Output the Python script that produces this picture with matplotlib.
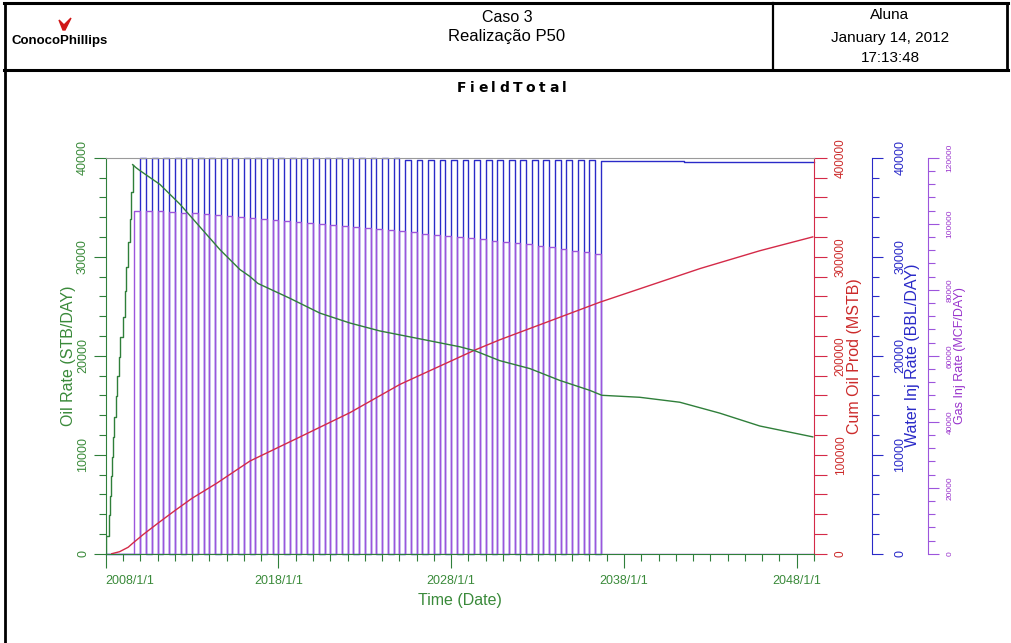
import matplotlib
matplotlib.use("Agg")
import matplotlib.pyplot as plt
from matplotlib.ticker import MultipleLocator
from matplotlib.lines import Line2D
from matplotlib.patches import Polygon

plt.rcParams['font.family'] = ['Liberation Sans', 'DejaVu Sans']

# ---- data ----
# oil rate (STB/DAY): stepped build-up, then decline
ramp_years = [2008.00, 2008.00, 2008.21, 2008.25, 2008.31, 2008.38, 2008.44, 2008.50, 2008.58,
              2008.67, 2008.75, 2008.83, 2008.98, 2009.10, 2009.20, 2009.30, 2009.41, 2009.48, 2009.56]
ramp_rate = [0, 1800, 3900, 5800, 7800, 9800, 11800, 13800, 15900,
             17900, 19900, 21900, 23900, 26500, 29000, 31500, 33800, 36500, 39300]
decl_years = [2009.56, 2009.75, 2009.98, 2011.14, 2012.30, 2013.46, 2014.62, 2015.77, 2016.35, 2016.81,
              2018.66, 2020.40, 2022.14, 2023.87, 2025.03, 2026.77, 2028.50, 2029.37, 2030.81, 2032.55,
              2034.29, 2036.02, 2036.72, 2038.91, 2041.23, 2043.54, 2045.86, 2048.93]
decl_rate = [39300, 39000, 38700, 37300, 35300, 33000, 30700, 28700, 28000, 27300,
             25800, 24300, 23300, 22500, 22100, 21500, 20900, 20500, 19500, 18700,
             17500, 16500, 16000, 15800, 15300, 14200, 12900, 11800]

# cumulative oil (MSTB)
cum_years = [2008.35, 2008.80, 2009.30, 2009.58, 2010.18, 2011.00, 2012.00, 2013.00, 2014.42, 2016.35,
             2019.24, 2022.14, 2025.03, 2029.37, 2030.80, 2033.70, 2036.60, 2039.50, 2042.40, 2045.86, 2048.93]
cum_oil = [0, 2000, 6500, 10800, 19500, 30500, 43500, 56000, 71100, 93600,
           117900, 142500, 171000, 205700, 216000, 235000, 254000, 271000, 288000, 306000, 320000]

# water injection periods (BBL/DAY), start of each period
water_start = ["2010-01", "2010-09", "2011-05", "2012-01", "2012-09", "2013-05", "2014-01", "2014-09",
               "2015-05", "2016-01", "2016-09", "2017-05", "2018-01", "2018-09", "2019-05", "2020-01",
               "2020-09", "2021-05", "2022-01", "2022-09", "2023-05", "2024-01", "2024-09", "2025-05",
               "2026-01", "2026-09", "2027-05", "2028-01", "2028-09", "2029-05", "2030-01", "2030-09",
               "2031-05", "2032-01", "2032-09", "2033-05", "2034-01", "2034-09", "2035-05", "2036-01",
               "2036-09", "2041-07"]
water_rate = [40000, 40000, 40000, 40000, 40000, 40000, 40000, 40000,
              40000, 40000, 40000, 40000, 40000, 40000, 40000, 40000,
              40000, 40000, 39950, 39950, 39950, 39950, 39950, 39750,
              39750, 39750, 39750, 39750, 39750, 39750, 39750, 39750,
              39750, 39750, 39750, 39750, 39750, 39750, 39750, 39750,
              39700, 39550]

# gas injection periods (MCF/DAY), start of each period
gas_start = ["2009-09", "2010-05", "2011-01", "2011-09", "2012-05", "2013-01", "2013-09", "2014-05",
             "2015-01", "2015-09", "2016-05", "2017-01", "2017-09", "2018-05", "2019-01", "2019-09",
             "2020-05", "2021-01", "2021-09", "2022-05", "2023-01", "2023-09", "2024-05", "2025-01",
             "2025-09", "2026-05", "2027-01", "2027-09", "2028-05", "2029-01", "2029-09", "2030-05",
             "2031-01", "2031-09", "2032-05", "2033-01", "2033-09", "2034-05", "2035-01", "2035-09",
             "2036-05"]
gas_rate = [103800, 103900, 103700, 103500, 103300, 103100, 102800, 102600,
            102300, 102000, 101700, 101400, 101100, 100800, 100500, 100100,
            99800, 99500, 99200, 98900, 98600, 98300, 98000, 97700,
            97400, 97000, 96700, 96300, 96000, 95700, 95300, 94900,
            94500, 94100, 93700, 93300, 92800, 92300, 91800, 91300,
            90700]

major_years = [2008, 2018, 2028, 2038, 2048]
major_labels = ["2008/1/1", "2018/1/1", "2028/1/1", "2038/1/1", "2048/1/1"]

GREEN = '#2f7f3a'
GREEN_T = '#3a8a3a'
RED = '#d42a48'
RED_T = '#cc2a2a'
BLUE = '#2a2ac8'
PURPLE = '#9d55dc'
PURPLE_T = '#9933cc'

W, H = 1011, 643


def fx(x):
    return x / W


def fy(y):
    return 1 - y / H


def yr(s):
    y, m = s.split('-')
    return int(y) + (int(m) - 1) / 12


# build the injection step series
events = [(2008.0, 0, 0)]
for d, w in zip(water_start, water_rate):
    events.append((yr(d), w, 0))
for d, g in zip(gas_start, gas_rate):
    events.append((yr(d), 0, g))
events.sort()
inj_t = [e[0] for e in events] + [2049.0]
inj_w = [e[1] for e in events] + [events[-1][1]]
inj_g = [e[2] for e in events] + [events[-1][2]]

fig = plt.figure(figsize=(10.11, 6.43), dpi=100)
L, R, T, B = 105.7, 814.0, 157.7, 553.7
rect = [fx(L), fy(B), (R - L) / W, (B - T) / H]
ax = fig.add_axes(rect)
ax_c = ax.twinx()
ax_w = ax.twinx()
ax_g = ax.twinx()
ax_w.set_zorder(1)
ax_g.set_zorder(2)
ax_c.set_zorder(3)
ax.set_zorder(4)
for a in (ax, ax_c, ax_w, ax_g):
    a.patch.set_visible(False)

# water / gas injection
ax_w.plot(inj_t, inj_w, drawstyle='steps-post', color=BLUE, lw=1.0, clip_on=False)
ax_g.plot(inj_t, inj_g, drawstyle='steps-post', color=PURPLE, lw=1.0)
# cum oil
ax_c.plot(cum_years, cum_oil, color=RED, lw=1.0)
# oil rate
ax.plot(ramp_years, ramp_rate, drawstyle='steps-post', color=GREEN, lw=1.0)
ax.plot(decl_years, decl_rate, color=GREEN, lw=1.0)

ax.set_xlim(2008, 2049)
ax.set_ylim(0, 40000)
ax_c.set_ylim(0, 400000)
ax_w.set_ylim(0, 40000)
ax_g.set_ylim(0, 120000)

# x axis
ax.set_xticks(major_years)
ax.set_xticklabels(major_labels)
ax.xaxis.set_minor_locator(MultipleLocator(1))
ax.get_xticklabels()[0].set_ha('left')
ax.tick_params(axis='x', which='major', length=10, width=0.8, color=GREEN, labelcolor=GREEN_T,
               labelsize=9, pad=5)
ax.tick_params(axis='x', which='minor', length=5, width=0.8, color=GREEN)
ax.set_xlabel("Time (Date)", color=GREEN_T, fontsize=11.5)
ax.xaxis.set_label_coords(0.5, -0.117)
ax.xaxis.label.set_va('center')

# left axis
ax.yaxis.set_major_locator(MultipleLocator(10000))
ax.yaxis.set_minor_locator(MultipleLocator(2000))
ax.tick_params(axis='y', which='major', length=9, width=0.8, color=GREEN, labelcolor=GREEN_T,
               labelsize=9, labelrotation=90, pad=3)
ax.tick_params(axis='y', which='minor', length=5, width=0.8, color=GREEN)
for lab in ax.get_yticklabels():
    lab.set_va('center')
ax.set_ylabel("Oil Rate (STB/DAY)", color=GREEN_T, fontsize=11.5)
ax.yaxis.set_label_coords((68 - L) / (R - L), 0.5)
ax.yaxis.label.set_va('center')

ax.spines['left'].set_color(GREEN)
ax.spines['bottom'].set_color(GREEN)
ax.spines['top'].set_color('#9a9a9a')
ax.spines['right'].set_visible(False)

# right axes
specs = [
    (ax_c, 1.0, RED, RED_T, 100000, 20000, 8.5, 6, "Cum Oil Prod (MSTB)", 855, 11.5),
    (ax_w, (872 - L) / (R - L), BLUE, BLUE, 10000, 2000, 9, 8, "Water Inj Rate (BBL/DAY)", 913, 11.5),
    (ax_g, (928.3 - L) / (R - L), PURPLE, PURPLE_T, 20000, 4000, 6, 5, "Gas Inj Rate (MCF/DAY)", 960, 9),
]
for a, pos, col, tcol, maj, mnr, lsz, pad, label, lx, fsz in specs:
    for s in ('left', 'top', 'bottom'):
        a.spines[s].set_visible(False)
    a.spines['right'].set_position(('axes', pos))
    a.spines['right'].set_color(col)
    a.yaxis.set_major_locator(MultipleLocator(maj))
    a.yaxis.set_minor_locator(MultipleLocator(mnr))
    a.tick_params(axis='y', which='major', length=9 if a is ax_c else 8, width=0.8, color=col,
                  labelcolor=tcol, labelsize=lsz, labelrotation=90, pad=pad)
    a.tick_params(axis='y', which='minor', length=9 if a is ax_c else 5, width=0.8, color=col)
    for lab in a.get_yticklabels():
        lab.set_va('center')
    a.set_ylabel(label, color=tcol, fontsize=fsz, rotation=90)
    a.yaxis.set_label_coords((lx - L) / (R - L), 0.5)
    a.yaxis.label.set_va('center')

# ---- header ----
def hline(x0, x1, y, lw):
    fig.add_artist(Line2D([fx(x0), fx(x1)], [fy(y), fy(y)], color='black', lw=lw))


def vline(x, y0, y1, lw):
    fig.add_artist(Line2D([fx(x), fx(x)], [fy(y0), fy(y1)], color='black', lw=lw))


hline(4, 1008, 3, 2.2)
hline(4, 1008, 70, 2.2)
vline(5, 3, 643, 2.0)
vline(1007, 3, 70, 2.0)
vline(773, 3, 70, 1.6)

fig.text(fx(507), fy(17), "Caso 3", ha='center', va='center', fontsize=11.5)
fig.text(fx(507), fy(36), "Realização P50", ha='center', va='center', fontsize=12)
narrow = ['Liberation Sans Narrow', 'Liberation Sans', 'DejaVu Sans']
fig.text(fx(890), fy(15), "Aluna", ha='center', va='center', fontsize=11, family=narrow)
fig.text(fx(890), fy(38), "January 14, 2012", ha='center', va='center', fontsize=11, family=narrow)
fig.text(fx(890), fy(58), "17:13:48", ha='center', va='center', fontsize=11, family=narrow)

fig.text(fx(12), fy(41), "ConocoPhillips", ha='left', va='center', fontsize=9.5,
         weight='bold', family=narrow)
fig.add_artist(Polygon([(fx(59), fy(20)), (fx(64), fy(25)), (fx(71), fy(18)),
                        (fx(65), fy(30)), (fx(63), fy(30))], closed=True,
                       color='#d01818', transform=fig.transFigure))

# spaced title
renderer = fig.canvas.get_renderer()
x = 457
for ch in "FieldTotal":
    t = fig.text(fx(x), fy(88), ch, ha='left', va='center', fontsize=10, weight='bold',
                 family='DejaVu Sans')
    x += t.get_window_extent(renderer).width + 3.5

fig.savefig("out.png", dpi=100)
